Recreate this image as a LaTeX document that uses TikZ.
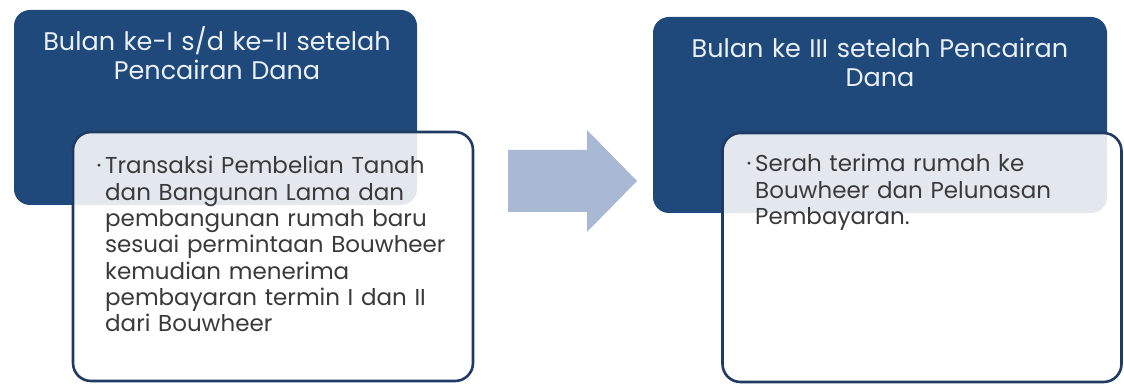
\documentclass[tikz,border=0pt]{standalone}
\usepackage{fontspec}
\setmainfont{Poppins}
\definecolor{darkbox}{HTML}{1F487B}
\definecolor{boxline}{HTML}{1F3A63}
\definecolor{arrowc}{HTML}{A9B9D4}
\definecolor{titlec}{HTML}{EAF0F8}
\definecolor{bodyc}{HTML}{3A3A3A}
\tikzset{
  darkcard/.style={draw=none, fill=darkbox, rounded corners=16pt, inner sep=0pt},
  whitecard/.style={draw=boxline, line width=2.6pt, fill=white, fill opacity=0.88, rounded corners=18pt, inner sep=0pt},
  titletext/.style={text=titlec, font=\fontsize{25.5}{29}\selectfont, align=center, text width=440pt, inner sep=0pt, anchor=base},
  bodytext/.style={text=bodyc, font=\fontsize{23}{26.3}\selectfont, align=left, text width=370pt, inner sep=0pt, anchor=base west},
  bulletdot/.style={text=bodyc, font=\fontsize{23}{26.3}\selectfont, inner sep=0pt, anchor=base},
}
\begin{document}
\begin{tikzpicture}[x=1pt,y=1pt]
\useasboundingbox (0,0) rectangle (1124,383);
% left card
\node[darkcard, minimum width=403pt, minimum height=195pt] (d1) at (215.5,275.5) {};
\node[titletext] (t1) at (217,332) {Bulan ke-I s/d ke-II setelah\\Pencairan Dana};
\node[whitecard, minimum width=400pt, minimum height=249pt] (w1) at (273,126.5) {};
\node[bodytext] (b1) at (105,209) {Transaksi Pembelian Tanah\\dan Bangunan Lama dan\\pembangunan rumah baru\\sesuai permintaan Bouwheer\\kemudian menerima\\pembayaran termin I dan II\\dari Bouwheer};
\node[bulletdot] (p1) at (99,209) {·};
% arrow
\path[fill=arrowc] (508,233) -- (587,233) -- (587,253) -- (637,202) -- (587,151) -- (587,171) -- (508,171) -- cycle;
% right card
\node[darkcard, minimum width=454pt, minimum height=196pt] (d2) at (880,268) {};
\node[titletext] (t2) at (880,325) {Bulan ke III setelah Pencairan\\Dana};
\node[whitecard, minimum width=399pt, minimum height=249pt] (w2) at (922,125.5) {};
\node[bodytext] (b2) at (755,211) {Serah terima rumah ke\\Bouwheer dan Pelunasan\\Pembayaran.};
\node[bulletdot] (p2) at (749,211) {·};
\end{tikzpicture}
\end{document}
